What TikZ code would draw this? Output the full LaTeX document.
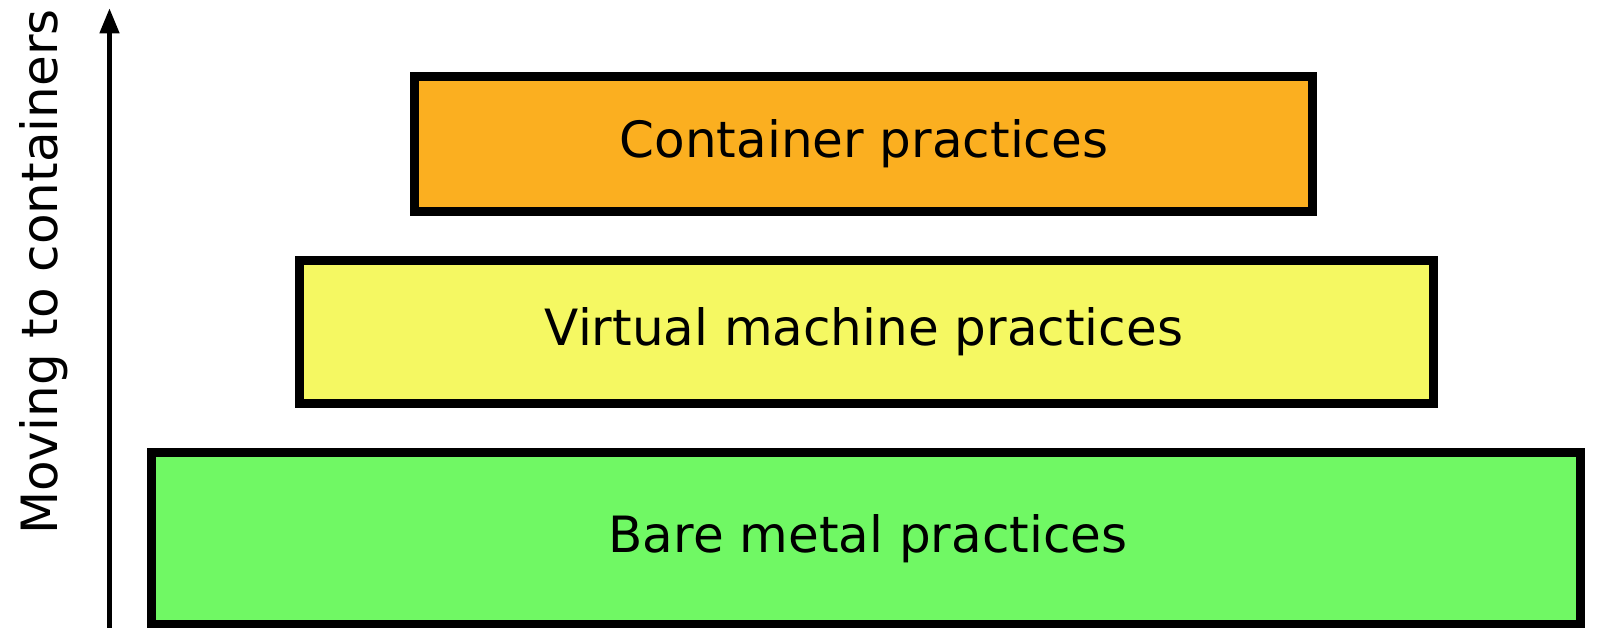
\documentclass[tikz,border=0pt]{standalone}
\usepackage{fontspec}
\setmainfont{DejaVu Sans}
\usetikzlibrary{arrows.meta}

\definecolor{containerfill}{RGB}{251,175,32}
\definecolor{vmfill}{RGB}{245,248,98}
\definecolor{metalfill}{RGB}{112,248,100}

\tikzset{
  layerbox/.style={draw=black, line width=9pt, inner sep=0pt, outer sep=0pt},
  layertext/.style={anchor=base, inner sep=0pt, font=\fontsize{50}{60}\selectfont},
  axislabel/.style={rotate=90, anchor=base west, inner sep=0pt, font=\fontsize{50}{60}\selectfont},
  axisarrow/.style={line width=4.5pt, -{Triangle[length=25pt,width=19pt]}}
}

\begin{document}
\begin{tikzpicture}[x=1pt, y=-1pt]
  \useasboundingbox (0,0) rectangle (1602,628);

  % stacked practice layers
  \node[layerbox, fill=containerfill, minimum width=898pt, minimum height=135pt] (container) at (863.5,144) {};
  \node[layerbox, fill=vmfill, minimum width=1134pt, minimum height=143pt] (vm) at (866.5,332) {};
  \node[layerbox, fill=metalfill, minimum width=1429pt, minimum height=172pt] (metal) at (866,538.5) {};

  \node[layertext] (containertext) at (864,158) {Container practices};
  \node[layertext] (vmtext) at (864,345) {Virtual machine practices};
  \node[layertext] (metaltext) at (868,552) {Bare metal practices};

  % vertical axis with its label
  \coordinate (axisbottom) at (109.5,640);
  \coordinate (axistop) at (109.5,8.3);
  \draw[axisarrow] (axisbottom) -- (axistop);
  \node[axislabel] (axistext) at (57,535) {Moving to containers};
\end{tikzpicture}
\end{document}
